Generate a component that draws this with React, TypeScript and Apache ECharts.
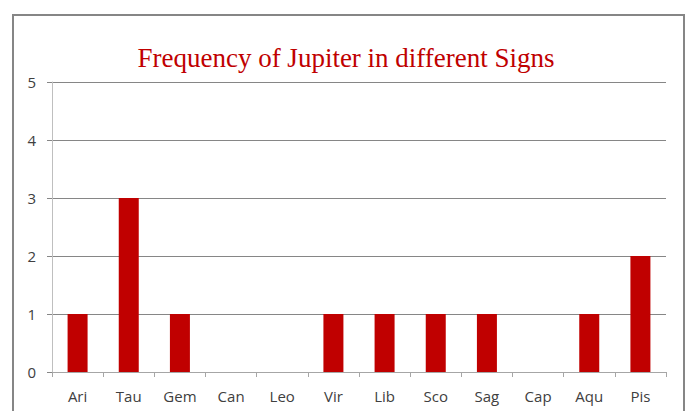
import React, { useEffect, useRef } from "react";
import * as echarts from "echarts";

const categories = ["Ari", "Tau", "Gem", "Can", "Leo", "Vir", "Lib", "Sco", "Sag", "Cap", "Aqu", "Pis"];
const frequency = [1, 3, 1, 0, 0, 1, 1, 1, 1, 0, 1, 2];
const titleText = "Frequency of Jupiter in different Signs";

export default function App() {
  const ref = useRef<HTMLDivElement>(null);
  useEffect(() => {
    document.body.style.margin = "0";
    const chart = echarts.init(ref.current!, null, { renderer: "svg" });
    chart.setOption({
      animation: false,
      backgroundColor: "#ffffff",
      title: {
        text: titleText,
        left: "center",
        top: 39,
        textStyle: {
          fontFamily: "Liberation Serif",
          fontWeight: "normal",
          fontSize: 27,
          color: "#c00000",
        },
      },
      graphic: [
        {
          type: "rect",
          shape: { x: 13, y: 15, width: 671, height: 430 },
          style: { fill: "none", stroke: "#868686", lineWidth: 2 },
          silent: true,
        },
      ],
      grid: { left: 52, right: 26, top: 82, bottom: 39 },
      xAxis: {
        type: "category",
        data: categories,
        axisLine: { show: true, lineStyle: { color: "#a6a6a6" } },
        axisTick: { show: true, alignWithLabel: false, length: 5, lineStyle: { color: "#a6a6a6" } },
        axisLabel: { fontFamily: "Open Sans", fontSize: 15, color: "#404040", margin: 16 },
      },
      yAxis: {
        type: "value",
        min: 0,
        max: 5,
        interval: 1,
        axisLine: { show: true, lineStyle: { color: "#bfbfbf" } },
        axisTick: { show: true, length: 5, lineStyle: { color: "#868686" } },
        axisLabel: { fontFamily: "Open Sans", fontSize: 15, color: "#404040", margin: 16 },
        splitLine: { show: true, lineStyle: { color: "#868686" } },
      },
      series: [
        {
          type: "bar",
          data: frequency,
          barWidth: 20,
          itemStyle: { color: "#c00000" },
        },
      ],
    });
    return () => chart.dispose();
  }, []);
  return <div ref={ref} style={{ width: 692, height: 411 }} />;
}
